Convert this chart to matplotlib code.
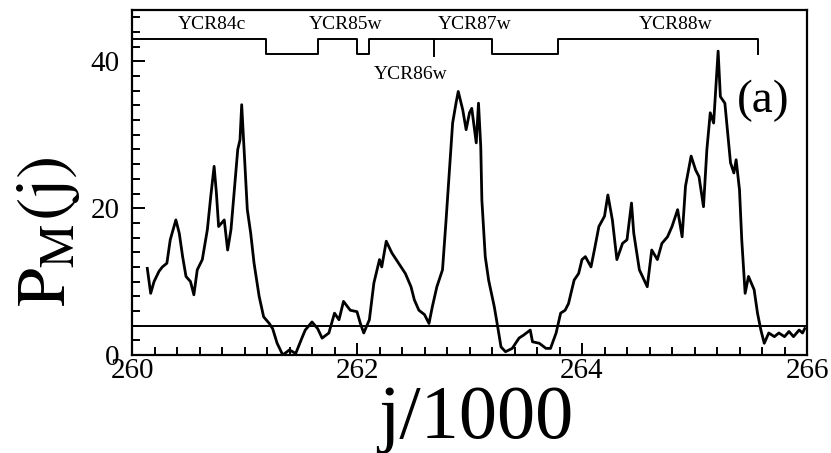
import matplotlib.pyplot as plt
from matplotlib.ticker import MultipleLocator

plt.rcParams['font.family'] = ['Liberation Serif', 'DejaVu Serif']
plt.rcParams['mathtext.fontset'] = 'stix'

# position along the chromosome (in units of 1000 bp) and the measure P_M(j)
j_kb = [260.136, 260.166, 260.196, 260.24, 260.27, 260.31, 260.34, 260.39, 260.42,
        260.45, 260.48, 260.52, 260.55, 260.58, 260.625, 260.67, 260.70, 260.73,
        260.75, 260.77, 260.82, 260.85, 260.88, 260.91, 260.94, 260.96, 260.975,
        260.995, 261.025, 261.055, 261.085, 261.13, 261.17, 261.22, 261.25, 261.29,
        261.34, 261.40, 261.455, 261.51, 261.54, 261.60, 261.65, 261.69, 261.75,
        261.80, 261.84, 261.88, 261.94, 262.00, 262.03, 262.06, 262.11, 262.15,
        262.20, 262.22, 262.26, 262.31, 262.37, 262.43, 262.48, 262.51, 262.55,
        262.60, 262.64, 262.67, 262.71, 262.76, 262.79, 262.82, 262.85, 262.88,
        262.90, 262.94, 262.97, 263.00, 263.02, 263.06, 263.08, 263.10, 263.11,
        263.14, 263.17, 263.22, 263.25, 263.28, 263.32, 263.38, 263.44, 263.48,
        263.54, 263.56, 263.62, 263.68, 263.72, 263.77, 263.81, 263.85, 263.88,
        263.93, 263.97, 264.00, 264.03, 264.08, 264.11, 264.15, 264.20, 264.23,
        264.27, 264.31, 264.36, 264.40, 264.44, 264.46, 264.51, 264.58, 264.62,
        264.67, 264.71, 264.76, 264.80, 264.85, 264.89, 264.92, 264.97, 265.01,
        265.04, 265.08, 265.11, 265.14, 265.17, 265.21, 265.23, 265.27, 265.29,
        265.32, 265.35, 265.37, 265.40, 265.42, 265.45, 265.48, 265.53, 265.56,
        265.59, 265.62, 265.66, 265.71, 265.75, 265.80, 265.84, 265.88, 265.93,
        265.96, 265.98]
pm = [11.8, 8.4, 10.0, 11.4, 12.0, 12.5, 15.7, 18.4, 16.6,
      13.4, 10.7, 10.0, 8.2, 11.6, 13.0, 17.1, 21.6, 25.7,
      22.1, 17.5, 18.4, 14.3, 17.1, 22.5, 28.0, 29.3, 34.1,
      28.4, 19.8, 16.6, 12.5, 8.0, 5.2, 4.3, 3.6, 1.6,
      0.0, 0.7, 0.2, 2.3, 3.4, 4.5, 3.6, 2.3, 3.0,
      5.7, 4.8, 7.3, 6.1, 5.9, 4.3, 3.0, 4.8, 9.8,
      13.0, 12.0, 15.5, 13.9, 12.5, 11.1, 9.3, 7.5, 6.1,
      5.5, 4.3, 6.6, 9.3, 11.6, 18.0, 24.8, 31.6, 34.3,
      35.9, 33.4, 30.7, 33.0, 33.6, 28.9, 34.3, 28.4, 21.1,
      13.4, 10.2, 6.6, 3.9, 1.1, 0.45, 0.9, 2.3, 2.7,
      3.4, 1.8, 1.6, 0.9, 0.9, 3.0, 5.7, 6.1, 7.0,
      10.2, 11.1, 13.0, 13.4, 12.0, 14.3, 17.5, 18.9, 21.8,
      18.4, 13.0, 15.2, 15.7, 20.7, 16.6, 11.6, 9.3, 14.3,
      13.0, 15.2, 16.1, 17.5, 19.8, 16.1, 23.0, 27.1, 25.2,
      24.3, 20.2, 28.0, 33.0, 31.6, 41.4, 35.2, 34.3, 31.1,
      26.2, 24.8, 26.6, 22.5, 15.7, 8.4, 10.7, 8.9, 5.7,
      3.4, 1.6, 3.0, 2.5, 3.0, 2.5, 3.2, 2.5, 3.4,
      3.0, 3.6]

threshold = 4.0

# gene map drawn above the curve: step outline, high = one strand, low = other
gene_bar_x = [260.0, 261.19, 261.19, 261.65, 261.65, 262.0, 262.0, 262.11, 262.11,
              263.20, 263.20, 263.79, 263.79, 265.565, 265.565]
gene_bar_y = [43, 43, 41, 41, 43, 43, 41, 41, 43,
              43, 41, 41, 43, 43, 41]
gene_split = 262.68
gene_names = ['YCR84c', 'YCR85w', 'YCR86w', 'YCR87w', 'YCR88w']
gene_label_x = [260.71, 261.90, 262.48, 263.05, 264.83]
gene_label_y = [45.0, 45.0, 38.2, 45.0, 45.0]

fig = plt.figure(figsize=(8.31, 4.53), dpi=100)
ax = fig.add_axes([132 / 831, 1 - 355 / 453, 675 / 831, 345 / 453])

ax.plot(j_kb, pm, color='black', lw=2.0)
ax.axhline(threshold, color='black', lw=1.4)

ax.plot(gene_bar_x, gene_bar_y, color='black', lw=1.4)
ax.plot([gene_split, gene_split], [43, 40.8], color='black', lw=1.4)
for name, gx, gy in zip(gene_names, gene_label_x, gene_label_y):
    ax.text(gx, gy, name, ha='center', va='center', fontsize=14)

ax.text(265.61, 34.6, '(a)', ha='center', va='center', fontsize=34)

ax.set_xlim(260, 266)
ax.set_ylim(0, 47)
ax.xaxis.set_major_locator(MultipleLocator(2))
ax.xaxis.set_minor_locator(MultipleLocator(0.2))
ax.yaxis.set_major_locator(MultipleLocator(20))
ax.yaxis.set_minor_locator(MultipleLocator(2))
ax.tick_params(which='both', direction='in', top=False, right=False, width=1.4)
ax.tick_params(which='major', length=9)
ax.tick_params(which='minor', length=5.5)
ax.tick_params(axis='x', which='major', labelsize=21, pad=2.5)
ax.tick_params(axis='y', which='major', labelsize=21, pad=9)
for side in ax.spines.values():
    side.set_linewidth(1.6)

fig.text(476 / 831, 1 - 438 / 453, 'j/1000', ha='center', va='baseline', fontsize=55)
fig.text(48 / 831, 1 - 232 / 453, r'$\mathrm{P}_{\mathrm{M}}\mathrm{(j)}$',
         rotation=90, ha='center', va='center', fontsize=50)

fig.savefig('out.png', dpi=100)
